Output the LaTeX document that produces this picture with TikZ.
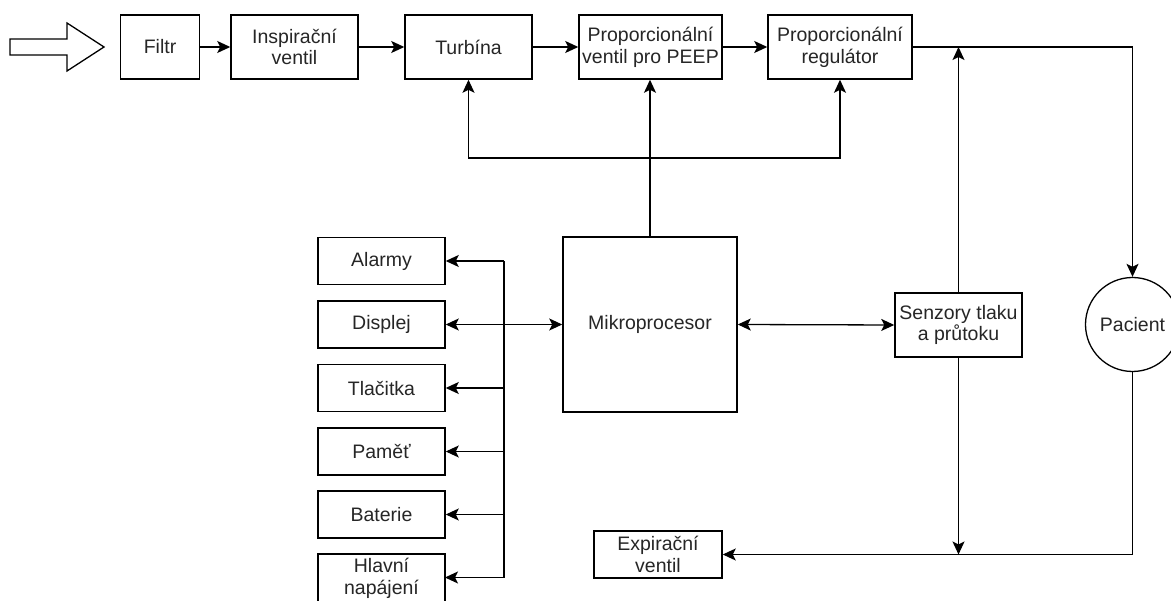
\documentclass[tikz,border=0pt]{standalone}
\usepackage{fontspec}
\setmainfont{Liberation Sans}
\usetikzlibrary{arrows.meta,calc}
\begin{document}
\begin{tikzpicture}[x=1pt,y=-1pt,
  every node/.style={font=\fontsize{19.5}{21.7}\selectfont, align=center, inner sep=0pt, text=black!85},
  box/.style={draw, line width=1.5pt, minimum height=64pt},
  sbox/.style={draw, line width=1.5pt, minimum width=127pt, minimum height=47pt},
  conn/.style={line width=1.3pt},
  arr/.style={conn, -{Stealth[length=13pt, width=12pt, inset=3pt]}},
  darr/.style={conn, {Stealth[length=13pt, width=12pt, inset=3pt]}-{Stealth[length=13pt, width=12pt, inset=3pt]}}
]
\useasboundingbox (0,0) rectangle (1171,601);
\clip (0,0) rectangle (1171,601);
\fill[white] (0,0) rectangle (1171,601);

% input arrow
\draw[line width=1.3pt] (10,39) -- (67,39) -- (67,23) -- (104,47) -- (67,71) -- (67,55) -- (10,55) -- cycle;

% top row
\node[box, minimum width=79pt]  (filtr) at (160,47) {Filtr};
\node[box, minimum width=127pt] (insp)  at (294.5,47) {Inspirační\\ventil};
\node[box, minimum width=127pt] (turb)  at (468.5,47) {Turbína};
\node[box, minimum width=143pt] (peep)  at (650.5,47) {Proporcionální\\ventil pro PEEP};
\node[box, minimum width=144pt] (reg)   at (840,47) {Proporcionální\\regulátor};

% microprocessor
\node[draw, line width=1.5pt, minimum width=174pt, minimum height=175pt] (mikro) at (650,324.5) {Mikroprocesor};

% left column
\node[sbox] (alarmy)  at (381.5,261)   {Alarmy};
\node[sbox] (displej) at (381.5,324.5) {Displej};
\node[sbox] (tlac)    at (381.5,388)   {Tlačitka};
\node[sbox] (pamet)   at (381.5,451.5) {Paměť};
\node[sbox] (bat)     at (381.5,514.5) {Baterie};
\node[sbox, minimum height=94pt] (hlavni) at (381.5,601) {};
\node (hlavnitxt) at (381.5,578) {Hlavní\\napájení};

% sensors, patient, expiration
\node[box, minimum width=127pt] (sens) at (958.5,325) {Senzory tlaku\\a průtoku};
\node[draw, circle, line width=1.3pt, minimum size=94pt] (pac) at (1132.5,324.5) {Pacient};
\node[sbox, minimum width=128pt] (exp) at (658,554.5) {Expirační\\ventil};

% coordinates
\coordinate (bus) at (504,0);
\coordinate (ctl) at (650,158);
\coordinate (hl) at (445,577.5);

% top chain
\draw[arr] (filtr) -- (insp);
\draw[arr] (insp) -- (turb);
\draw[arr] (turb) -- (peep);
\draw[arr] (peep) -- (reg);
\draw[arr] (reg.east) -| (pac.north);
\draw[arr] (sens.north) -- (sens.north |- reg.east);

% control lines
\draw[arr] (mikro.north) -- (mikro.north |- peep.south);
\draw[arr] (ctl) -| (turb.south);
\draw[arr] (ctl) -| (reg.south);

% microprocessor links
\draw[darr] (mikro.east) -- (sens.west);
\draw[darr] (displej.east) -- (mikro.west);
\draw[conn] (bus |- alarmy.east) -- (bus |- hl);
\draw[arr] (bus |- alarmy.east) -- (alarmy.east);
\draw[arr] (bus |- tlac.east) -- (tlac.east);
\draw[arr] (bus |- pamet.east) -- (pamet.east);
\draw[arr] (bus |- bat.east) -- (bat.east);
\draw[arr] (bus |- hl) -- (hl);

% expiration path
\draw[arr] (pac.south) |- (exp.east);
\draw[arr] (sens.south) -- (sens.south |- exp.east);
\end{tikzpicture}
\end{document}
